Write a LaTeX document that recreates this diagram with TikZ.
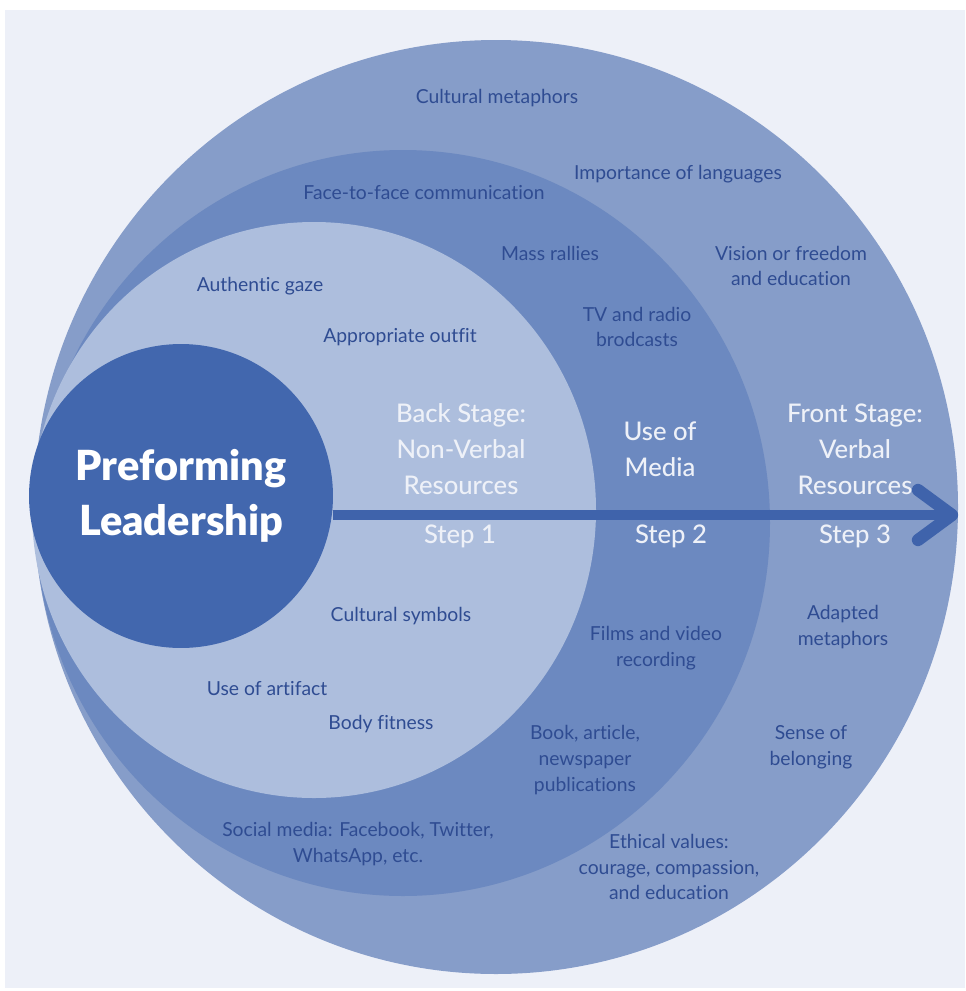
\documentclass[tikz,border=0pt]{standalone}
\usepackage{fontspec}
\setmainfont{Lato}[Ligatures=NoCommon]
\newfontfamily\heavyfont{Lato Black}[Ligatures=NoCommon]
\newfontfamily\mediumfont{Lato Medium}[Ligatures=NoCommon]
\definecolor{pagebg}{HTML}{EDF0F8}
\definecolor{ringthree}{HTML}{869DC9}
\definecolor{ringtwo}{HTML}{6C89C0}
\definecolor{ringone}{HTML}{ADBEDD}
\definecolor{coreblue}{HTML}{4267AE}
\definecolor{arrowblue}{HTML}{3F63AB}
\definecolor{labelblue}{HTML}{2F4C92}
\definecolor{paletext}{HTML}{EEF1F8}
\begin{document}
\begin{tikzpicture}[x=0.02cm,y=-0.02cm,
  lbl/.style={text=labelblue, font=\fontsize{11}{14.7}\selectfont, align=center, inner sep=0pt},
  stage/.style={text=paletext, font=\mediumfont\fontsize{14.6}{20.4}\selectfont, align=center, inner sep=0pt},
  core/.style={circle, fill=coreblue, minimum size=6.08cm, inner sep=0pt, text=white,
    font=\heavyfont\fontsize{23.6}{31}\selectfont, align=center},
  shaft/.style={draw=arrowblue, line width=6pt},
  barb/.style={draw=arrowblue, line width=7pt, line cap=round, line join=round}]
\useasboundingbox (0,0) rectangle (965,991);
\fill[white] (0,0) rectangle (965,991);
\fill[pagebg] (5,10) rectangle (965,988);

% nested stages
\fill[ringthree] (496,507) ellipse [x radius=462, y radius=467];
\fill[ringtwo] (403,523) ellipse [x radius=367, y radius=373];
\fill[ringone] (314,510) ellipse [x radius=282, y radius=288];

% centre
\node[core] (core) at (181,496) {Preforming\\Leadership};

% progression arrow
\coordinate (tip) at (952,515);
\coordinate (barbup) at (918,490);
\coordinate (barbdn) at (918,540);
\draw[shaft] (core.east |- tip) -- (tip);
\draw[barb] (barbup) -- (tip) -- (barbdn);

% stage titles
\node[stage] (back) at (461,449) {Back Stage:\\Non-Verbal\\Resources};
\node[stage] (media) at (660,449) {Use of\\Media};
\node[stage] (front) at (855,449) {Front Stage:\\Verbal\\Resources};
\node[stage] (s1) at (460,536) {Step 1};
\node[stage] (s2) at (671,536) {Step 2};
\node[stage] (s3) at (855,536) {Step 3};

% outer ring labels
\node[lbl] (cm) at (497,98) {Cultural metaphors};
\node[lbl] (lang) at (678,174) {Importance of languages};
\node[lbl] (vis) at (791,266) {Vision or freedom\\and education};
\node[lbl] (adm) at (843,627) {Adapted\\metaphors};
\node[lbl] (bel) at (811,747) {Sense of\\belonging};
\node[lbl] (eth) at (669,867) {Ethical values:\\courage, compassion,\\and education};

% media ring labels
\node[lbl] (f2f) at (424,193) {Face-to-face communication};
\node[lbl] (mass) at (550,253) {Mass rallies};
\node[lbl] (tv) at (637,327) {TV and radio\\brodcasts};
\node[lbl] (film) at (656,648) {Films and video\\recording};
\node[lbl] (book) at (585,760) {Book, article,\\newspaper\\publications};
\node[lbl] (soc) at (358,844) {Social media: Facebook, Twitter,\\WhatsApp, etc.};

% inner ring labels
\node[lbl] (gaze) at (260,286) {Authentic gaze};
\node[lbl] (outfit) at (400,337) {Appropriate outfit};
\node[lbl] (sym) at (401,616) {Cultural symbols};
\node[lbl] (art) at (267,689) {Use of artifact};
\node[lbl] (fit) at (381,724) {Body fitness};
\end{tikzpicture}
\end{document}
